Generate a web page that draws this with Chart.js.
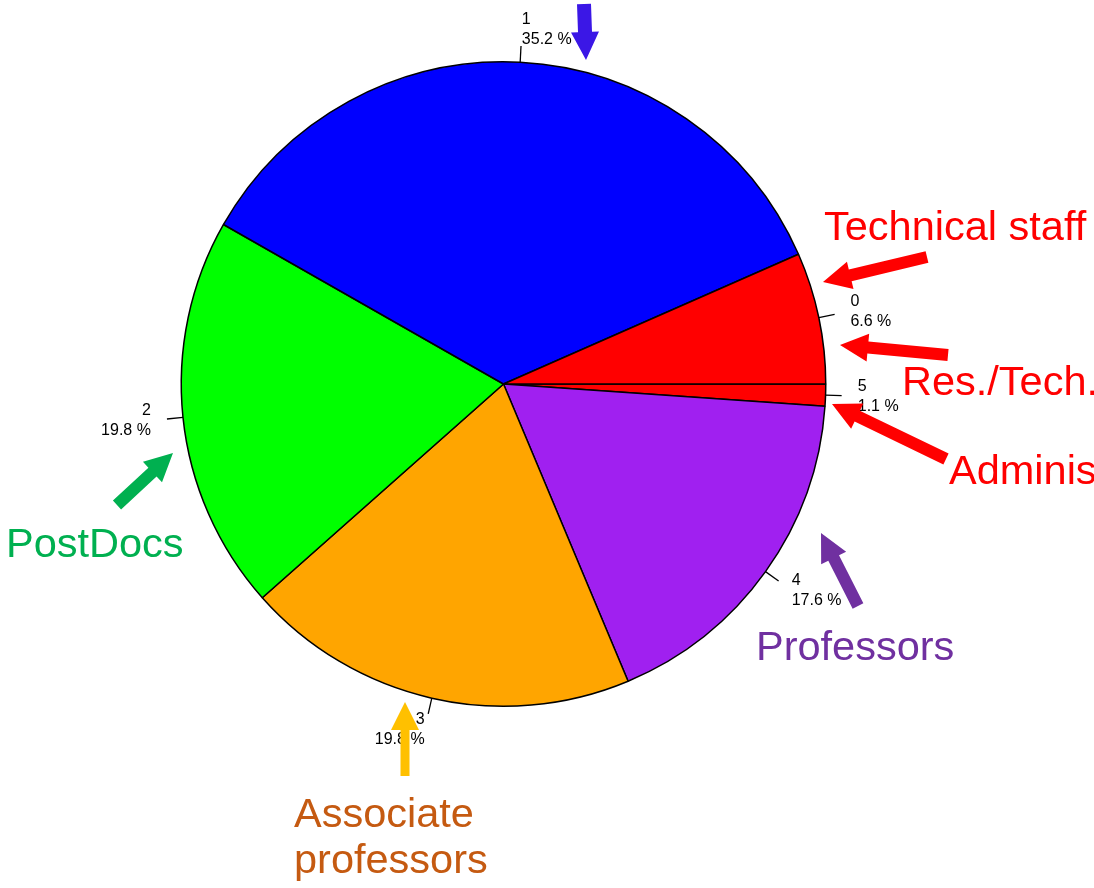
<!DOCTYPE html>
<html>
<head>
<meta charset="utf-8">
<style>
  html, body { margin: 0; padding: 0; background: #fff; }
  #wrap { width: 1094px; height: 888px; position: relative; }
</style>
<script src="https://cdn.jsdelivr.net/npm/chart.js@4/dist/chart.umd.min.js"></script>
</head>
<body>
<div id="wrap"><canvas id="pie" width="1094" height="888"></canvas></div>
<script>
// slice data, counter-clockwise from 3 o'clock as in the original
const categories = ['0', '1', '2', '3', '4', '5'];
const shares = [6.6, 35.2, 19.8, 19.8, 17.6, 1.1];

const sliceColors = ['#ff0000', '#0000ff', '#00ff00', '#ffa500', '#a020f0', '#ff0000'];

// callout texts and arrows drawn on top
const callouts = [
    { lines: ['Technical staff'], color: '#ff0000', x: 824, y: 240, arrow: [927, 257, 823, 282], arrowColor: '#ff0000' },
    { lines: ['Res./Tech.'], color: '#ff0000', x: 902, y: 395, arrow: [948, 355, 840, 345], arrowColor: '#ff0000' },
    { lines: ['Administration'], color: '#ff0000', x: 949, y: 484, arrow: [946, 459, 832, 404], arrowColor: '#ff0000' },
    { lines: ['Professors'], color: '#7030a0', x: 756, y: 660, arrow: [858, 606, 821, 533], arrowColor: '#7030a0' },
    { lines: ['PostDocs'], color: '#00b050', x: 6, y: 557, arrow: [117, 505, 173, 453], arrowColor: '#00b050' },
    { lines: ['Associate', 'professors'], color: '#c55a11', x: 294, y: 827, arrow: [405, 776, 405, 702], arrowColor: '#ffc000', shaft: 9 },
    { lines: [], color: '#3b17e6', x: 0, y: 0, arrow: [584, 4, 586, 60], arrowColor: '#3b17e6', shaft: 14 }
];

// Chart.js goes clockwise, so feed the slices reversed and start at 3 o'clock
const revLabels = categories.slice().reverse();
const revValues = shares.slice().reverse();
const revColors = sliceColors.slice().reverse();

function drawArrow(ctx, x1, y1, x2, y2, color, shaft, headLen, headW) {
    const ang = Math.atan2(y2 - y1, x2 - x1);
    const len = Math.hypot(x2 - x1, y2 - y1);
    ctx.save();
    ctx.translate(x1, y1);
    ctx.rotate(ang);
    ctx.fillStyle = color;
    ctx.beginPath();
    ctx.moveTo(0, -shaft / 2);
    ctx.lineTo(len - headLen, -shaft / 2);
    ctx.lineTo(len - headLen, -headW / 2);
    ctx.lineTo(len, 0);
    ctx.lineTo(len - headLen, headW / 2);
    ctx.lineTo(len - headLen, shaft / 2);
    ctx.lineTo(0, shaft / 2);
    ctx.closePath();
    ctx.fill();
    ctx.restore();
}

const sliceLabels = {
    id: 'sliceLabels',
    afterDatasetsDraw(chart) {
        const ctx = chart.ctx;
        const meta = chart.getDatasetMeta(0);
        ctx.save();
        ctx.font = '16px "Liberation Sans", Arial, sans-serif';
        ctx.fillStyle = '#000';
        ctx.strokeStyle = '#000';
        ctx.lineWidth = 1.3;
        meta.data.forEach(function(arc, i) {
            const p = arc.getProps(['x', 'y', 'startAngle', 'endAngle', 'outerRadius'], true);
            const mid = (p.startAngle + p.endAngle) / 2;
            const c = Math.cos(mid), s = Math.sin(mid);
            ctx.beginPath();
            ctx.moveTo(p.x + p.outerRadius * c, p.y + p.outerRadius * s);
            ctx.lineTo(p.x + p.outerRadius * 1.05 * c, p.y + p.outerRadius * 1.05 * s);
            ctx.stroke();
            const tx = p.x + p.outerRadius * 1.1 * c;
            const ty = p.y + p.outerRadius * 1.1 * s;
            ctx.textAlign = c >= 0 ? 'left' : 'right';
            ctx.textBaseline = 'middle';
            ctx.fillText(revLabels[i], tx, ty - 10);
            ctx.fillText(revValues[i].toFixed(1) + ' %', tx, ty + 10);
        });
        ctx.restore();
    }
};

const annotations = {
    id: 'annotations',
    afterDraw(chart) {
        const ctx = chart.ctx;
        ctx.save();
        callouts.forEach(function(c) {
            const a = c.arrow;
            drawArrow(ctx, a[0], a[1], a[2], a[3], c.arrowColor, c.shaft || 12, 28, 28);
            ctx.font = '41.5px "Liberation Sans", Arial, sans-serif';
            ctx.fillStyle = c.color;
            ctx.textAlign = 'left';
            ctx.textBaseline = 'alphabetic';
            c.lines.forEach(function(line, k) {
                ctx.fillText(line, c.x, c.y + k * 46);
            });
        });
        ctx.restore();
    }
};

document.addEventListener('DOMContentLoaded', function() {
    new Chart(document.getElementById('pie'), {
        type: 'pie',
        data: {
            labels: revLabels,
            datasets: [{
                data: revValues,
                backgroundColor: revColors,
                borderColor: '#000',
                borderWidth: 1.5
            }]
        },
        options: {
            responsive: false,
            animation: false,
            rotation: 90,
            layout: {
                padding: { left: 180, right: 267, top: 61, bottom: 181 }
            },
            plugins: {
                legend: { display: false },
                tooltip: { enabled: false }
            }
        },
        plugins: [sliceLabels, annotations]
    });
});
</script>
</body>
</html>
